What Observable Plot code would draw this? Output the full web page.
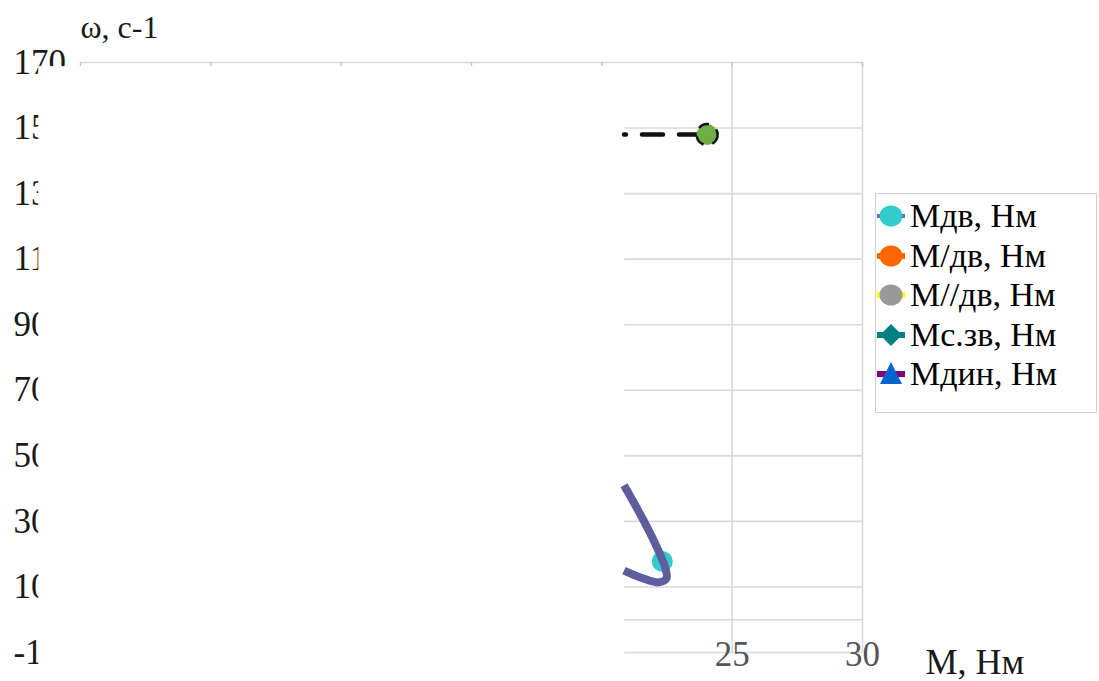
<!DOCTYPE html>
<html>
<head>
<meta charset="utf-8">
<script src="https://cdn.jsdelivr.net/npm/d3@7"></script>
<script src="https://cdn.jsdelivr.net/npm/@observablehq/plot@0.6"></script>
<style>
  body { margin: 0; background: #fff; }
  #chart { position: relative; width: 1099px; height: 681px; font-family: "Liberation Serif", "Times New Roman", serif; }
  .legend { position: absolute; left: 875px; top: 193px; width: 222px; height: 220px; box-sizing: border-box;
            border: 1.5px solid #cfcfcf; background: #fff; }
  .legend .row { position: absolute; left: 0; height: 40px; display: flex; align-items: center; }
  .legend .row svg { display: block; }
  .legend .row span { font-family: "Liberation Serif", serif; font-size: 34px; color: #000; margin-left: 4px;
                      line-height: 40px; white-space: nowrap; }
</style>
</head>
<body>
<div id="chart"></div>
<script>
// Axis ticks
const xTickLabels = [25, 30];
const xTopTicks = [0, 5, 10, 15, 20, 25, 30];
const yTickLabels = [-10, 10, 30, 50, 70, 90, 110, 130, 150, 170];

// Мдв, Нм — torque curve (M, Нм vs ω, с-1)
const mdvM = [20.85, 21.6, 22.17, 22.44, 22.48, 22.17, 21.48, 20.85];
const mdvW = [41.0, 30.3, 21.1, 15.6, 12.6, 11.4, 12.9, 15.0];
// Мдв working point
const mdvPointM = [22.32];
const mdvPointW = [17.8];

// idle speed line and its end point
const idleM = [20.85, 24.04];
const idleW = [148, 148];

// legend series
const seriesNames = ["Мдв, Нм", "М/дв, Нм", "М//дв, Нм", "Мс.зв, Нм", "Мдин, Нм"];
const seriesLineColors = ["#6a6aa8", "#ff6600", "#ffff00", "#008080", "#800080"];
const seriesMarkerColors = ["#33cccc", "#ff6600", "#999999", "#008080", "#0066cc"];
const seriesMarkerShapes = ["circle", "circle", "circle", "diamond", "triangle"];

const mdv = mdvM.map((m, i) => ({M: m, w: mdvW[i]}));
const mdvPoint = mdvPointM.map((m, i) => ({M: m, w: mdvPointW[i]}));
const idle = idleM.map((m, i) => ({M: m, w: idleW[i]}));

const gridColor = "#d9d9d9";

const chart = Plot.plot({
  width: 1099,
  height: 681,
  marginLeft: 80,
  marginRight: 237,
  marginTop: 62,
  marginBottom: 29,
  style: {fontFamily: "'Liberation Serif', 'Times New Roman', serif", background: "white", overflow: "visible"},
  x: {domain: [0, 30], label: null},
  y: {domain: [-10, 170], label: null},
  marks: [
    // horizontal gridlines and the M axis at ω = 0
    Plot.ruleY([...yTickLabels, 0], {stroke: gridColor, strokeWidth: 1.6}),
    // vertical gridlines
    Plot.ruleX(xTickLabels, {y1: -10, y2: 170, stroke: gridColor, strokeWidth: 1.6}),
    // short ticks under the top line
    Plot.ruleX(xTopTicks, {y1: 170, y2: 168.5, stroke: "#c8c8c8", strokeWidth: 1.5}),
    Plot.axisY({ticks: yTickLabels, tickSize: 0, tickPadding: 67, textAnchor: "start", label: null,
                tickFormat: d => String(d), fontSize: 35, color: "#1a1a1a"}),
    Plot.axisX({ticks: xTickLabels, tickSize: 0, tickPadding: -11, label: null,
                tickFormat: d => String(d), fontSize: 35, color: "#555"}),
    // blank panel over the left part of the plot
    Plot.rect([0], {x1: -1.6, x2: 20.88, y1: 168.75, y2: -22, fill: "white"}),
    // axis titles
    Plot.text(["ω, с-1"], {frameAnchor: "top-left", textAnchor: "start", lineAnchor: "bottom",
                          dx: 0, dy: -25, fontSize: 32, fill: "#1a1a1a"}),
    Plot.text(["М, Нм"], {frameAnchor: "bottom-right", textAnchor: "start", lineAnchor: "bottom",
                          dx: 63, dy: 21, fontSize: 36, fill: "#1a1a1a"}),
    // data
    Plot.dot(mdvPoint, {x: "M", y: "w", r: 10.5, fill: "#33cccc"}),
    Plot.line(mdv, {x: "M", y: "w", stroke: "#5e5e9e", strokeWidth: 8, curve: "catmull-rom",
                    strokeLinejoin: "round", strokeLinecap: "butt"}),
    Plot.line(idle, {x: "M", y: "w", stroke: "#111", strokeWidth: 4.5, strokeDasharray: "21,16",
                     strokeDashoffset: 19}),
    Plot.dot(idle.slice(-1), {x: "M", y: "w", r: 10.5, fill: "#70ad47", stroke: "#111",
                              strokeWidth: 2.5, strokeDasharray: "11,9"})
  ]
});

const root = document.getElementById("chart");
root.appendChild(chart);

// legend
const legend = document.createElement("div");
legend.className = "legend";
const ns = "http://www.w3.org/2000/svg";
seriesNames.forEach((name, i) => {
  const row = document.createElement("div");
  row.className = "row";
  row.style.top = (2 + i * 39.5) + "px";
  const svg = document.createElementNS(ns, "svg");
  svg.setAttribute("width", 30);
  svg.setAttribute("height", 40);
  const line = document.createElementNS(ns, "line");
  line.setAttribute("x1", 1); line.setAttribute("x2", 29);
  line.setAttribute("y1", 20); line.setAttribute("y2", 20);
  line.setAttribute("stroke", seriesLineColors[i]);
  line.setAttribute("stroke-width", i === 0 ? 4 : 6);
  svg.appendChild(line);
  const shape = seriesMarkerShapes[i];
  let m;
  if (shape === "circle") {
    m = document.createElementNS(ns, "ellipse");
    m.setAttribute("cx", 15); m.setAttribute("cy", 20);
    m.setAttribute("rx", 11.5); m.setAttribute("ry", 10.5);
  } else if (shape === "diamond") {
    m = document.createElementNS(ns, "path");
    m.setAttribute("d", "M15,9 L26,20 L15,31 L4,20 Z");
  } else {
    m = document.createElementNS(ns, "path");
    m.setAttribute("d", "M15,8 L26,30 L4,30 Z");
  }
  m.setAttribute("fill", seriesMarkerColors[i]);
  svg.appendChild(m);
  row.appendChild(svg);
  const label = document.createElement("span");
  label.textContent = name;
  row.appendChild(label);
  legend.appendChild(row);
});
root.appendChild(legend);
</script>
</body>
</html>
